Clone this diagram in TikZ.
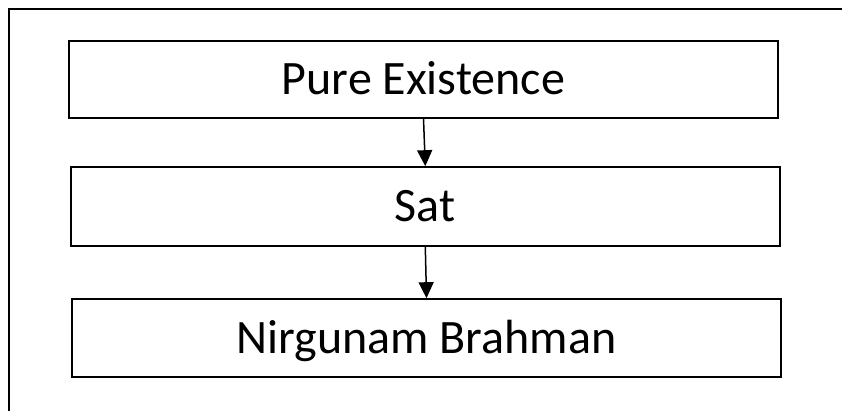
\documentclass[tikz,border=0pt]{standalone}
\usepackage{fontspec}
\setmainfont{Carlito}
\usetikzlibrary{arrows.meta}

\tikzset{
  level/.style={draw, line width=1.6pt, minimum width=709pt, inner sep=0pt,
    text height=30.5pt, text depth=0pt, font=\fontsize{48}{56}\selectfont},
  down/.style={line width=1.5pt, -{Triangle[length=16pt,width=15pt]}}
}

\begin{document}
\begin{tikzpicture}[x=1pt, y=-1pt]
  \useasboundingbox (0, 0) rectangle (842, 411);

  % frame, only top and left side
  \draw[line width=2.2pt] (8, 9) -- (842, 9);
  \draw[line width=2.2pt] (9, 9) -- (9, 411);

  \node[level, minimum height=77pt] (pure) at (423.5,  79.5) {Pure Existence};
  \node[level, minimum height=79pt] (sat)  at (425.3, 206.5) {Sat};
  \node[level, minimum height=78pt] (nirg) at (426.5, 338.0) {Nirgunam Brahman};

  \draw[down] (pure.south) -- (sat.north);
  \draw[down] (sat.south) -- (nirg.north);

\end{tikzpicture}
\end{document}
